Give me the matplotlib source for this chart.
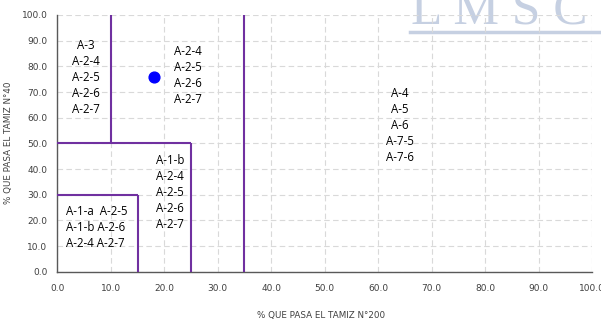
import matplotlib.pyplot as plt

# classification boundaries (x = % passing N°200, y = % passing N°40)
seg_x = [[10, 10], [0, 25], [25, 25], [0, 15], [15, 15], [35, 35]]
seg_y = [[50, 100], [50, 50], [0, 50], [30, 30], [0, 30], [0, 100]]

# sample point
pt_x = [18.0]
pt_y = [75.8]

# zone labels
zone_text = [
    "A-3\nA-2-4\nA-2-5\nA-2-6\nA-2-7",
    "A-2-4\nA-2-5\nA-2-6\nA-2-7",
    "A-4\nA-5\nA-6\nA-7-5\nA-7-6",
    "A-1-b\nA-2-4\nA-2-5\nA-2-6\nA-2-7",
    "A-1-a  A-2-5\nA-1-b A-2-6\nA-2-4 A-2-7",
]
zone_x = [5.4, 24.5, 64.1, 21.1, 7.4]
zone_y = [75.5, 76.6, 56.8, 30.9, 17.4]

ticks = [0, 10, 20, 30, 40, 50, 60, 70, 80, 90, 100]

fig = plt.figure(figsize=(6.01, 3.2), dpi=100)

# watermark (behind the plot area)
fig.text(411 / 601, 1 - 23 / 320, "L M S C", fontsize=37, family='Liberation Serif',
         color='#c6d0e2', ha='left', va='baseline', zorder=-2)
fig.add_artist(plt.Line2D([410 / 601, 1.0], [1 - 32 / 320, 1 - 32 / 320],
                          color='#c6d0e2', lw=2.5, zorder=-2))

ax = fig.add_axes([57.3 / 601, 1 - 271.7 / 320, 534.7 / 601, 256.7 / 320])
ax.patch.set_alpha(0.0)

ax.set_xlim(0, 100)
ax.set_ylim(0, 100)
ax.set_xticks(ticks)
ax.set_yticks(ticks)
ax.set_xticklabels([f"{t:.1f}" for t in ticks])
ax.set_yticklabels([f"{t:.1f}" for t in ticks])
ax.tick_params(length=0, labelsize=6.5, colors='#404040', pad=9)
ax.tick_params(axis='y', pad=7)

ax.grid(True, color='#d9d9d9', linestyle=(0, (5, 3)), linewidth=0.8)
ax.set_axisbelow(True)
for s in ['top', 'right']:
    ax.spines[s].set_visible(False)
for s in ['left', 'bottom']:
    ax.spines[s].set_color('#595959')
    ax.spines[s].set_linewidth(1.0)

for xs, ys in zip(seg_x, seg_y):
    ax.plot(xs, ys, color='#7030a0', lw=1.5, solid_capstyle='butt', clip_on=False, zorder=3)

ax.scatter(pt_x, pt_y, s=60, color='#0000ff', zorder=4)

for txt, x, y in zip(zone_text, zone_x, zone_y):
    ax.text(x, y, txt, ha='center', va='center', multialignment='left' if '  ' in txt else 'center',
            fontsize=8.3, family='Open Sans', linespacing=1.3, color='#000000', zorder=5)

ax.set_xlabel("% QUE PASA EL TAMIZ N°200", fontsize=6.3, color='#404040')
ax.set_ylabel("% QUE PASA EL TAMIZ N°40", fontsize=6.3, color='#404040')
ax.xaxis.set_label_coords((321 - 57.3) / 534.7, -(311 - 271.7) / 256.7)
ax.yaxis.set_label_coords(-(57.3 - 13) / 534.7, (271.7 - 143) / 256.7)

fig.savefig('out.png', dpi=100)
